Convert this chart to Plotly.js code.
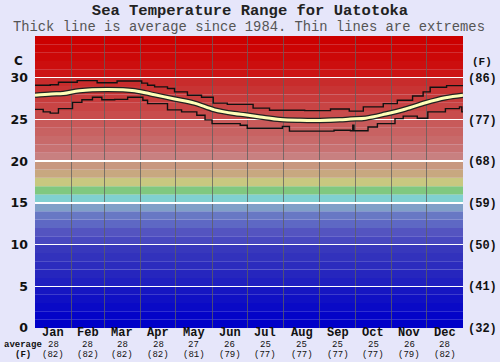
<!DOCTYPE html>
<html><head><meta charset="utf-8">
<script src="https://cdn.plot.ly/plotly-3.0.1.min.js"></script>
<style>html,body{margin:0;padding:0;background:#e6e6fa;}</style>
</head><body><div id="chart" style="width:500px;height:362px;"></div>
<script>
// ---- data ----
const months = ["Jan","Feb","Mar","Apr","May","Jun","Jul","Aug","Sep","Oct","Nov","Dec"];
const monthMid = [15.5,45,74.5,105,135.5,166,196.5,227.5,258,288.5,319,349.5];
const monthEdges = [31,59,90,120,151,181,212,243,273,304,334];
const avgC = [28,28,28,28,27,26,25,25,25,25,26,28];
const avgF = [82,82,82,82,81,79,77,77,77,77,79,82];

const avgDays = [0,14,24,38,62,85,102,119,136,153,170,179,192,209,226,243,260,269,282,299,316,333,350,365];
const avgVals = [27.9,28.05,28.1,28.45,28.6,28.45,27.95,27.45,26.95,26.15,25.7,25.55,25.3,25.0,24.9,24.88,24.95,25.05,25.15,25.65,26.25,27.0,27.6,27.9];

const maxDays = [0,13,20,36,53,70,91,96,102,113,119,130,142,152,164,186,200,230,252,268,280,297,309,322,331,337,351,365];
const maxVals = [29.1,29.15,29.45,29.65,29.4,29.6,29.35,29.1,28.9,28.7,28.3,27.9,27.65,26.95,26.8,26.35,26.1,26.05,26.25,26.0,26.5,26.9,27.3,27.8,28.3,28.85,29.05,29.05];

const minDays = [0,7,13,20,32,40,49,57,68,79,92,96,113,125,138,145,151,175,181,211,217,237,255,269,271,272,284,292,307,314,326,335,350,362,364,365];
const minVals = [26.2,25.9,25.75,26.3,27.05,27.35,27.65,27.35,27.4,27.65,27.3,26.9,26.15,25.9,25.5,24.95,24.5,24.3,23.95,24.15,23.6,23.6,23.7,23.65,24.3,23.65,24.1,24.5,25.1,25.4,25.15,25.9,26.3,26.5,25.9,25.9];

const bandLow = Array.from({length:35},(_,i)=>i);
const bandColors = [
 "#0000c8","#0404c8","#0a0ac6","#1010c4","#1616c2",
 "#2020c0","#2626be","#2c2cbe","#3232bc","#3838bc",
 "#4848c0","#5454c0","#5e68c4","#6878c4","#80a0c8",
 "#80d0d0","#80c880","#c8c880","#c8a880","#c89880",
 "#c88080","#c87272","#c86a6a","#c86262","#c85a5a",
 "#c84c4c","#c84444","#c83c3c","#c83434","#c82c2c",
 "#cc1414","#cc0e0e","#cc0808","#cc0404","#cc0000"];

const cTicks = [0,5,10,15,20,25,30];
const fTicks = [32,41,50,59,68,77,86];

// ---- traces ----
const mono = "Liberation Mono";
const traces = [
 {x:maxDays, y:maxVals, mode:'lines', line:{color:'#111', width:1.4, shape:'hv'}, hoverinfo:'skip'},
 {x:minDays, y:minVals, mode:'lines', line:{color:'#111', width:1.4, shape:'hv'}, hoverinfo:'skip'},
 {x:avgDays, y:avgVals, mode:'lines', line:{color:'#222', width:5.5, shape:'spline'}, hoverinfo:'skip'},
 {x:avgDays, y:avgVals, mode:'lines', line:{color:'#ffffb8', width:3, shape:'spline'}, hoverinfo:'skip'},
 {x:[0], y:[32], yaxis:'y2', mode:'markers', marker:{opacity:0}, hoverinfo:'skip'}
];

const shapes = bandLow.map((b,i)=>({type:'rect', xref:'paper', yref:'y', x0:0, x1:1, y0:b, y1:b+1,
  fillcolor:bandColors[i], line:{width:0}, layer:'below'}));

const annotations = [];
const lab = (x, xref, y, text, size) => ({x:x, xref:xref, y:y/292, yref:'paper', yanchor:'middle', xanchor:'center',
  text:text, showarrow:false, borderpad:0, font:{family:mono, size:size, color:'#111'}});
months.forEach((m,i)=>{
  annotations.push(lab(monthMid[i], 'x', -4.5, '<b>'+m+'</b>', 12));
  annotations.push(lab(monthMid[i], 'x', -16.5, String(avgC[i]), 9));
  annotations.push(lab(monthMid[i], 'x', -26.5, '('+avgF[i]+')', 9));
});
annotations.push(lab(-12/428, 'paper', -16.5, '<b>average</b>', 9));
annotations.push(lab(-12/428, 'paper', -26.5, '<b>(F)</b>', 9));
annotations.push({x:-17/428, xref:'paper', y:(328-61)/292, yref:'paper', yanchor:'middle', xanchor:'center', text:'<b>C</b>', showarrow:false, font:{family:'DejaVu Sans',size:12,color:'#111'}});
annotations.push({x:1+19/428, xref:'paper', y:(328-62)/292, yref:'paper', yanchor:'middle', xanchor:'center', text:'<b>(F)</b>', showarrow:false, font:{family:mono,size:11,color:'#111'}});
annotations.push({x:0.5, xref:'paper', y:(328-27.5)/292, yref:'paper', yanchor:'middle', xanchor:'center', borderpad:0, text:'Thick line is average since 1984. Thin lines are extremes', showarrow:false, font:{family:mono,size:13.8,color:'#555'}});

const layout = {
  width:500, height:362,
  paper_bgcolor:'#e6e6fa', plot_bgcolor:'#e6e6fa',
  margin:{l:35, r:37, t:36, b:34},
  showlegend:false,
  title:{text:'<b>Sea Temperature Range for Uatotoka</b>', font:{family:mono, size:15.5, color:'#222'}, x:0.5, xanchor:'center', y:1-9.5/362, yanchor:'middle'},
  xaxis:{range:[0,365], showticklabels:false, ticks:'', showgrid:false, zeroline:false, fixedrange:true,
         minor:{tickvals:monthEdges, showgrid:true, gridcolor:'rgba(95,95,95,0.75)', gridwidth:1, ticks:''}},
  yaxis:{range:[0,35], tickvals:cTicks, ticktext:cTicks.map(v=>'<b>'+v+'</b>'), showgrid:false, zeroline:false, ticks:'',
         tickfont:{family:'DejaVu Sans', size:12.5, color:'#111'}, ticklabelstandoff:6, fixedrange:true,
         minor:{tickvals:[5,10,15,20,25,30], showgrid:true, gridcolor:'#ffffff', gridwidth:1.5, ticks:''}},
  yaxis2:{range:[32,95], overlaying:'y', side:'right', tickvals:fTicks, ticktext:fTicks.map(v=>'<b>('+v+')</b>'),
          showgrid:false, zeroline:false, ticks:'', tickfont:{family:mono, size:12, color:'#111'}, ticklabelstandoff:4, fixedrange:true},
  shapes:shapes,
  annotations:annotations
};
Plotly.newPlot('chart', traces, layout, {displayModeBar:false, staticPlot:true});
</script>
</body></html>
